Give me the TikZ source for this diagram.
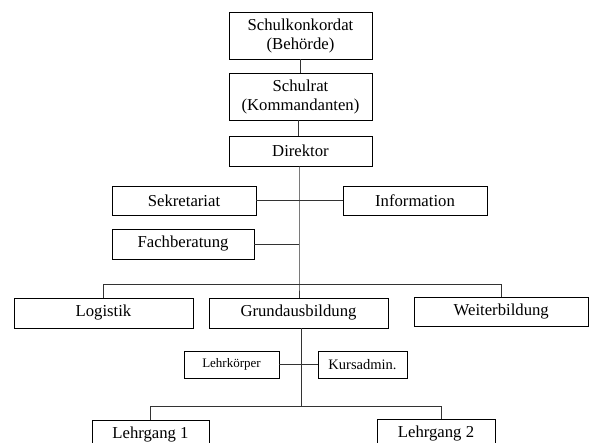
\documentclass[tikz,border=0pt]{standalone}
\usepackage{fontspec}
\setmainfont{Liberation Serif}
\begin{document}
\begin{tikzpicture}[x=1pt,y=-1pt,
  box/.style={draw=black,line width=0.8pt,inner sep=0pt,align=center,
    font=\fontsize{16.7}{19}\selectfont},
  smallbox/.style={box,font=\fontsize{13}{15}\selectfont},
  conn/.style={draw=black!80,line width=0.9pt}]
\useasboundingbox (0,0) rectangle (589,443);
% boxes
\node[box,minimum width=143pt,minimum height=47pt] (sk) at (300.5,35.5) {Schulkonkordat\\(Behörde)};
\node[box,minimum width=143pt,minimum height=47pt] (sr) at (300.5,96.5) {Schulrat\\(Kommandanten)};
\node[box,minimum width=143pt,minimum height=30pt] (dir) at (300.5,151) {Direktor};
\node[box,minimum width=144pt,minimum height=29pt] (sek) at (184,200.5) {Sekretariat};
\node[box,minimum width=144pt,minimum height=29pt] (inf) at (415,200.5) {Information};
\node[box,minimum width=142pt,minimum height=30pt] (fach) at (183,244) {Fachberatung};
\node[box,minimum width=179pt,minimum height=30pt] (log) at (103.5,313) {Logistik};
\node[box,minimum width=179pt,minimum height=30pt] (gru) at (298.5,313) {Grundausbildung};
\node[box,minimum width=174.5pt,minimum height=29pt] (wei) at (501.25,311.5) {Weiterbildung};
\node[smallbox,minimum width=95pt,minimum height=27pt] (lk) at (231.5,364.5) {Lehrkörper};
\node[smallbox,font=\fontsize{14.5}{16}\selectfont,minimum width=89pt,minimum height=27pt] (ka) at (362.5,364.5) {Kursadmin.};
\node[box,minimum width=117pt,minimum height=30pt] (lg1) at (150.5,435) {Lehrgang 1};
\node[box,minimum width=118pt,minimum height=30pt] (lg2) at (436,434) {Lehrgang 2};
% junction coordinates
\coordinate (busL) at (103.5,284);
\coordinate (busM) at (299,284);
\coordinate (busR) at (501,284);
\coordinate (sekJ) at (299,200.5);
\coordinate (fachJ) at (299,244);
\coordinate (lbusL) at (150.5,406);
\coordinate (lbusM) at (301,406);
\coordinate (lbusR) at (441,406);
\coordinate (lgTwoTop) at (441,419);
% connectors
\draw[conn] (sk.south -| 300,0) -- (sr.north -| 300,0);
\draw[conn] (sr.south -| 298.5,0) -- (dir.north -| 298.5,0);
\draw[conn] (dir.south -| busM) -- (busM) -- (gru.north -| busM);
\draw[conn] (sek.east) -- (inf.west);
\draw[conn] (fach.east) -- (fachJ);
\draw[conn] (log.north) -- (busL) -- (busR) -- (wei.north -| busR);
\draw[conn] (gru.south -| lbusM) -- (lbusM);
\draw[conn] (lk.east) -- (ka.west);
\draw[conn] (lg1.north) -- (lbusL) -- (lbusR) -- (lgTwoTop);
\end{tikzpicture}
\end{document}
